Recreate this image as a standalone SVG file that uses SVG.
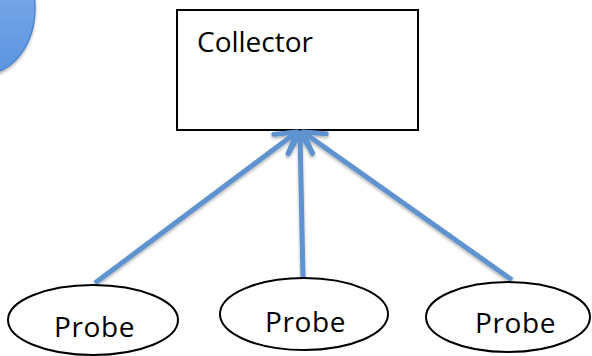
<svg xmlns="http://www.w3.org/2000/svg" width="592" height="356" viewBox="0 0 592 356">
  <style>
    .lbl { font-family: "Open Sans", "Liberation Sans", sans-serif; font-size: 28px; fill: #000; }
    .plbl { letter-spacing: 0.6px; }
    .probe { fill: #fff; stroke: #000; stroke-width: 2; }
    .conn { stroke: #5f93cf; stroke-width: 5; fill: none; marker-end: url(#arrow); }
  </style>
  <defs>
    <linearGradient id="blueGrad" x1="0" y1="0" x2="0" y2="1">
      <stop offset="0" stop-color="#86b2ec"/>
      <stop offset="1" stop-color="#5a93df"/>
    </linearGradient>
    <filter id="shadow" x="-20%" y="-20%" width="140%" height="140%">
      <feDropShadow dx="0" dy="2" stdDeviation="1.5" flood-color="#000" flood-opacity="0.3"/>
    </filter>
    <marker id="arrow" markerUnits="userSpaceOnUse" viewBox="-26 -16 30 32" refX="0" refY="0" markerWidth="30" markerHeight="32" orient="auto">
      <path d="M-20,-12 L0,0 L-20,12" fill="none" stroke="#5f93cf" stroke-width="5" stroke-linecap="round" stroke-linejoin="round"/>
    </marker>
  </defs>

  <g id="circle">
    <ellipse cx="-15" cy="8" rx="50" ry="66" fill="url(#blueGrad)" stroke="#4f86cf" stroke-width="1.5" filter="url(#shadow)"/>
  </g>

  <g id="collector">
    <rect x="177" y="10" width="241" height="120" fill="#fff" stroke="#000" stroke-width="2"/>
    <text class="lbl" x="197" y="52">Collector</text>
  </g>

  <g id="connectors" filter="url(#shadow)">
    <line class="conn" x1="95" y1="283" x2="297" y2="132"/>
    <line class="conn" x1="303" y1="279" x2="300" y2="133"/>
    <line class="conn" x1="512" y1="280" x2="303" y2="132"/>
  </g>

  <g id="probe1">
    <ellipse class="probe" cx="93" cy="320" rx="85" ry="35"/>
    <text class="lbl plbl" x="54" y="337">Probe</text>
  </g>
  <g id="probe2">
    <ellipse class="probe" cx="304" cy="314" rx="84" ry="36"/>
    <text class="lbl plbl" x="265" y="332">Probe</text>
  </g>
  <g id="probe3">
    <ellipse class="probe" cx="508" cy="317" rx="82" ry="35"/>
    <text class="lbl plbl" x="475" y="333">Probe</text>
  </g>
</svg>
